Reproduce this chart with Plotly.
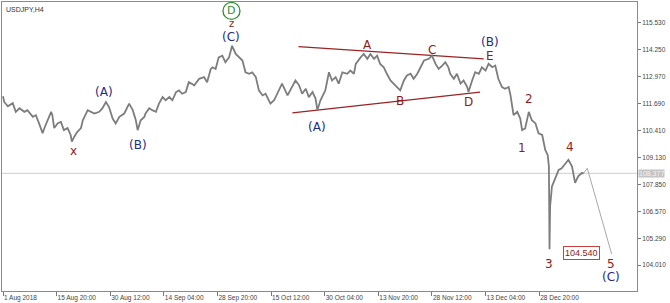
import plotly.graph_objects as go

# ---- data (bar index on H4 chart, price) ----
bar_index = [0, 2, 8, 16, 21, 27, 35, 40, 49, 54, 59, 65, 68, 73, 79, 81, 84, 90, 95, 100,
             106, 111, 113, 117, 122, 128, 131, 139, 144, 150, 158, 163, 169, 174, 180, 185,
             191, 199, 207, 213, 218, 221, 226, 232, 234, 240, 245, 251, 256, 262, 267, 273,
             278, 284, 289, 294, 300, 305, 314, 322, 330, 335, 341, 344, 349, 354, 360, 365,
             371, 376, 382, 387, 393, 398, 404, 409, 415, 420, 426, 431, 439, 445, 450, 458,
             467, 475, 480, 486, 491, 497, 502, 508, 513, 516, 521, 529, 535, 540, 546, 551,
             557, 565, 570, 576, 579, 587, 592, 598, 603, 609, 614, 619, 625, 630, 636, 641,
             647, 652, 658, 663, 669, 674, 680, 685, 691, 699, 704, 710, 715, 721, 726, 731,
             734, 740, 745, 751, 756, 762, 764, 770, 775, 781, 786, 792, 797, 803, 808, 813,
             819, 824, 830, 833, 838, 844, 849, 852, 857, 863, 868, 874, 879, 885, 890, 894,
             896, 897, 898, 901, 906, 912, 917, 923, 928, 934, 939, 944, 950, 953]
price = [112.04, 111.77, 111.56, 111.71, 111.30, 111.47, 111.30, 111.38, 111.06, 111.14,
         110.76, 110.29, 110.53, 110.90, 111.30, 111.14, 110.53, 110.76, 110.82, 110.43,
         110.53, 110.20, 109.88, 110.12, 110.35, 110.53, 110.90, 111.38, 111.30, 111.22,
         111.30, 111.46, 111.77, 111.53, 110.98, 110.75, 111.06, 111.22, 111.69, 111.38,
         110.90, 110.43, 110.90, 111.06, 111.22, 111.47, 111.38, 111.30, 111.69, 112.00,
         111.85, 112.00, 111.85, 112.24, 112.32, 112.16, 112.24, 112.71, 112.56, 112.87,
         112.95, 112.71, 113.34, 113.42, 113.34, 113.89, 113.97, 113.66, 113.89, 114.44,
         114.05, 113.89, 113.74, 113.18, 113.11, 113.18, 112.95, 112.32, 112.08, 112.16,
         111.69, 111.85, 112.16, 112.64, 112.08, 112.56, 112.79, 112.56, 112.16, 112.40,
         112.00, 112.24, 111.93, 111.38, 111.85, 112.32, 113.18, 112.79, 112.95, 112.64,
         113.18, 113.11, 113.26, 113.11, 113.58, 113.89, 114.05, 113.82, 114.05, 113.82,
         113.97, 113.58, 113.42, 113.11, 112.79, 112.64, 112.48, 112.32, 112.79, 113.03,
         113.11, 112.87, 113.11, 113.42, 113.74, 113.82, 113.97, 113.58, 113.34, 113.50,
         113.66, 113.42, 113.11, 112.87, 113.11, 112.64, 112.79, 112.48, 112.24, 112.79,
         113.18, 113.11, 113.42, 113.26, 113.58, 113.42, 113.50, 112.87, 112.48, 112.40,
         112.48, 112.08, 111.14, 111.30, 110.98, 110.43, 110.51, 111.30, 110.90, 110.75,
         110.28, 110.20, 109.49, 109.25, 108.70, 104.77, 106.81, 107.75, 108.07, 108.54,
         108.62, 108.86, 109.02, 108.70, 107.92, 108.23, 108.39, 108.38]

current_price = 108.377
target_price = 104.540

projection_index = [953, 959, 999]
projection_price = [108.38, 108.62, target_price]

upper_line_index = [485, 789]
upper_line_price = [114.40, 113.82]
lower_line_index = [475, 783]
lower_line_price = [111.25, 112.24]

tick_index = [0, 88, 176, 264, 352, 440, 528, 616, 704, 792, 880]
tick_text = ["1 Aug 2018", "15 Aug 20:00", "30 Aug 12:00", "14 Sep 04:00", "28 Sep 20:00",
             "15 Oct 12:00", "30 Oct 04:00", "13 Nov 20:00", "28 Nov 12:00", "13 Dec 04:00",
             "28 Dec 20:00"]
price_ticks = [104.010, 105.290, 106.570, 107.850, 109.130, 110.410, 111.690, 112.970,
               114.250, 115.530]

# wave labels: (text, bar index, price, colour key, font size)
wave_labels = [
    ("x", 115, 109.44, "red", 12),
    ("(A)", 166, 112.24, "blue", 12),
    ("(B)", 221, 109.72, "blue", 12),
    ("(C)", 374, 114.87, "blue", 12),
    ("z", 375, 115.48, "red", 10),
    ("D", 375, 116.10, "green", 11),
    ("A", 599, 114.49, "red", 12),
    ("C", 704, 114.24, "red", 12),
    ("(B)", 799, 114.60, "blue", 12),
    ("E", 799, 113.97, "red", 12),
    ("B", 652, 111.81, "red", 12),
    ("D", 764, 111.77, "red", 12),
    ("(A)", 515, 110.57, "blue", 12),
    ("1", 852, 109.57, "red", 12),
    ("2", 864, 111.93, "red", 12),
    ("3", 896, 104.06, "red", 12),
    ("4", 930, 109.64, "red", 12),
    ("5", 998, 104.06, "red", 12),
    ("(C)", 998, 103.44, "blue", 12),
]

COLORS = {"red": "#8e1b1b", "blue": "#1c2c8c", "green": "#2f8f2f"}

fig = go.Figure()

# current price line
fig.add_trace(go.Scatter(x=[-2, 1045], y=[current_price, current_price], mode="lines",
                         line=dict(color="#cfcfcf", width=1), hoverinfo="skip"))
# trendlines
fig.add_trace(go.Scatter(x=upper_line_index, y=upper_line_price, mode="lines",
                         line=dict(color="#9b2323", width=1.2), hoverinfo="skip"))
fig.add_trace(go.Scatter(x=lower_line_index, y=lower_line_price, mode="lines",
                         line=dict(color="#9b2323", width=1.2), hoverinfo="skip"))
# projection
fig.add_trace(go.Scatter(x=projection_index, y=projection_price, mode="lines",
                         line=dict(color="#a8a8a8", width=1), hoverinfo="skip"))
# price
fig.add_trace(go.Scatter(x=bar_index, y=price, mode="lines",
                         line=dict(color="#7d7d7d", width=1.8), hoverinfo="skip"))
# circle around D
fig.add_trace(go.Scatter(x=[375], y=[116.10], mode="markers",
                         marker=dict(symbol="circle-open", size=17,
                                     line=dict(color=COLORS["green"], width=1.3),
                                     color=COLORS["green"]),
                         cliponaxis=False, hoverinfo="skip"))

annotations = []
for text, xi, yp, ck, fs in wave_labels:
    annotations.append(dict(x=xi, y=yp, text=text, showarrow=False,
                            font=dict(family="DejaVu Sans", size=fs, color=COLORS[ck]),
                            xanchor="center", yanchor="middle"))

annotations.append(dict(x=949, y=104.60, text="104.540", showarrow=False,
                        font=dict(family="Liberation Sans", size=9, color="#8e1b1b"),
                        bordercolor="#c84040", borderwidth=1, borderpad=1,
                        bgcolor="white", xanchor="center", yanchor="middle"))
annotations.append(dict(xref="paper", x=1, y=current_price, text="108.377", showarrow=False,
                        font=dict(family="Liberation Sans", size=7, color="#f4f4f4"),
                        bgcolor="#c4c4c4", borderpad=0, xanchor="left", yanchor="middle",
                        xshift=1))
annotations.append(dict(xref="paper", yref="paper", x=0, y=1, text="USDJPY,H4",
                        showarrow=False, xanchor="left", yanchor="top", xshift=2, yshift=-2,
                        font=dict(family="Liberation Sans", size=7, color="#333333")))

fig.update_layout(
    width=670, height=303,
    margin=dict(l=1, r=33, t=1, b=10),
    paper_bgcolor="white", plot_bgcolor="white",
    showlegend=False,
    annotations=annotations,
    xaxis=dict(range=[-1.64, 1040.6], tickmode="array", tickvals=tick_index,
               ticktext=tick_text, ticks="outside", ticklen=4, tickcolor="#777777",
               ticklabelposition="outside right",
               tickfont=dict(family="Liberation Sans", size=6.5, color="#444444"),
               showgrid=False, zeroline=False, showline=True, linecolor="#8a8a8a",
               linewidth=1, mirror=True),
    yaxis=dict(range=[102.782, 116.522], side="right", tickmode="array",
               tickvals=price_ticks, ticktext=[f"{v:.3f}" for v in price_ticks],
               ticks="outside", ticklen=3, tickcolor="#777777",
               tickfont=dict(family="Liberation Sans", size=6.5, color="#444444"),
               showgrid=False, zeroline=False, showline=True, linecolor="#8a8a8a",
               linewidth=1, mirror=True),
)

fig.write_html("out.html")
